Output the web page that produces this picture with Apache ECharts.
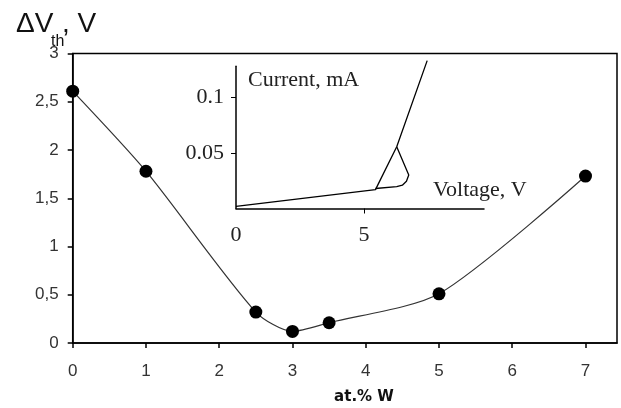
<!DOCTYPE html>
<html><head><meta charset="utf-8">
<script src="https://cdn.jsdelivr.net/npm/echarts@6/dist/echarts.min.js"></script>
<style>html,body{margin:0;padding:0;background:#fff}#c{width:621px;height:408px}</style>
</head><body><div id="c"></div>
<script>
// main chart: threshold voltage shift vs W content
const atW = [0, 1, 2.5, 3, 3.5, 5, 7];
const dVth = [2.61, 1.78, 0.32, 0.12, 0.21, 0.51, 1.73];
const xTicks = [0, 1, 2, 3, 4, 5, 6, 7];
const yTicks = [0, 0.5, 1, 1.5, 2, 2.5, 3];
// inset: I-V curve
const ivV = [0, 5.45, 6.28, 7.47];
const ivI = [0.002, 0.017, 0.0556, 0.133];
const loopV = [5.45, 6.28, 6.5, 6.66, 6.75, 6.28];
const loopI = [0.018, 0.0196, 0.021, 0.0245, 0.0301, 0.0556];
const insetXTicks = [0, 5];
const insetYTicks = [0.05, 0.1];

const zip = (a, b) => a.map((v, i) => [v, b[i]]);
const sans = 'Liberation Sans, Arial, sans-serif';
const serif = 'Liberation Serif, Times New Roman, serif';

const chart = echarts.init(document.getElementById('c'), null, {renderer: 'canvas'});
chart.setOption({
  animation: false,
  backgroundColor: '#fff',
  grid: [
    {left: 72.7, right: 4, top: 53.5, bottom: 65, show: true, borderColor: '#000', borderWidth: 1.5, backgroundColor: 'transparent'},
    {left: 236, right: 137, top: 66.2, bottom: 199.5, show: false}
  ],
  xAxis: [
    {gridIndex: 0, type: 'value', min: 0, max: 7.43, interval: 1,
     axisLine: {show: true, lineStyle: {color: '#000', width: 1.5}},
     axisTick: {show: true, length: 5, customValues: xTicks, lineStyle: {color: '#000', width: 1.5}},
     axisLabel: {customValues: xTicks, margin: 20, fontFamily: sans, fontSize: 17, color: '#333'},
     splitLine: {show: false}},
    {gridIndex: 1, type: 'value', min: 0, max: 9.69, interval: 5,
     axisLine: {show: true, onZero: false, lineStyle: {color: '#000', width: 1.5}},
     axisTick: {show: true, length: 5, customValues: [5], lineStyle: {color: '#000', width: 1}},
     axisLabel: {customValues: insetXTicks, margin: 16, fontFamily: serif, fontSize: 22, color: '#222'},
     splitLine: {show: false}}
  ],
  yAxis: [
    {gridIndex: 0, type: 'value', min: 0, max: 3, interval: 0.5,
     axisLine: {show: true, lineStyle: {color: '#000', width: 1.5}},
     axisTick: {show: true, length: 5, customValues: yTicks, lineStyle: {color: '#000', width: 1.5}},
     axisLabel: {customValues: yTicks, margin: 14, fontFamily: sans, fontSize: 17, color: '#333',
       formatter: v => String(v).replace('.', ',')},
     splitLine: {show: false}},
    {gridIndex: 1, type: 'value', min: 0, max: 0.128, interval: 0.05,
     axisLine: {show: true, onZero: false, lineStyle: {color: '#000', width: 1.5}},
     axisTick: {show: true, length: 5, customValues: insetYTicks, lineStyle: {color: '#000', width: 1}},
     axisLabel: {customValues: insetYTicks, margin: 12, fontFamily: serif, fontSize: 22, color: '#222'},
     splitLine: {show: false}}
  ],
  series: [
    {type: 'line', xAxisIndex: 0, yAxisIndex: 0, data: zip(atW, dVth), smooth: 0.25,
     symbol: 'circle', symbolSize: 13, itemStyle: {color: '#000'},
     lineStyle: {color: '#333', width: 1.2}, z: 3},
    {type: 'line', xAxisIndex: 1, yAxisIndex: 1, data: zip(ivV, ivI), clip: false,
     symbol: 'none', lineStyle: {color: '#000', width: 1.3}},
    {type: 'line', xAxisIndex: 1, yAxisIndex: 1, data: zip(loopV, loopI), clip: false,
     symbol: 'none', lineStyle: {color: '#000', width: 1.3}}
  ],
  graphic: [
    {type: 'text', left: 16, top: 10, style: {text: 'ΔV', font: '28px ' + sans, fill: '#111'}},
    {type: 'text', left: 51, top: 34, style: {text: 'th', font: '16px ' + sans, fill: '#111'}},
    {type: 'text', left: 62, top: 10, style: {text: ', V', font: '28px ' + sans, fill: '#111'}},
    {type: 'text', x: 364, y: 397, style: {text: 'at.% W', font: 'bold 15px DejaVu Sans, sans-serif', fill: '#111', align: 'center', verticalAlign: 'middle'}},
    {type: 'text', x: 248, y: 80, style: {text: 'Current, mA', font: '22px ' + serif, fill: '#222', verticalAlign: 'middle'}},
    {type: 'text', x: 433, y: 190, style: {text: 'Voltage, V', font: '22px ' + serif, fill: '#222', verticalAlign: 'middle'}}
  ]
});
</script></body></html>
